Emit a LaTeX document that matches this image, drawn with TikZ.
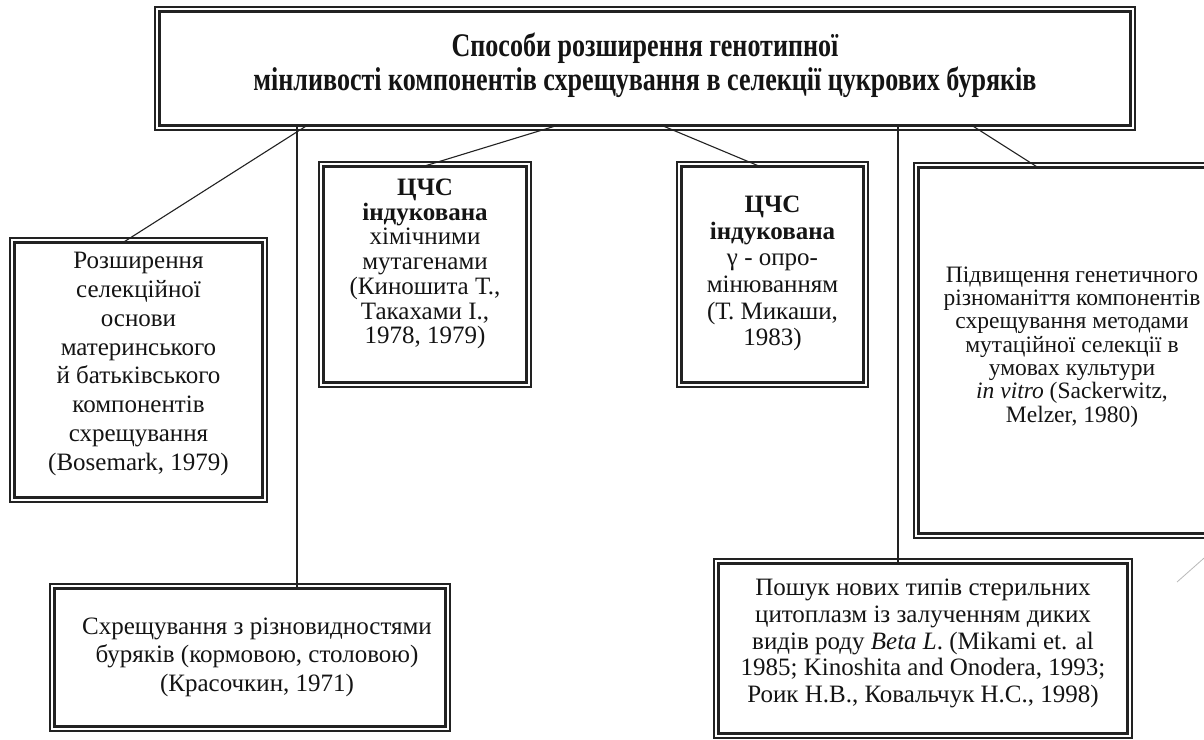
\documentclass[tikz,border=0pt]{standalone}
\usepackage{fontspec}
\setmainfont{Liberation Serif}
\newfontfamily\headfont[FakeStretch=0.79]{Liberation Serif}
\definecolor{ink}{HTML}{222222}
\definecolor{txt}{HTML}{141414}
\setlength{\lineskiplimit}{-60pt}
\begin{document}
\begin{tikzpicture}[x=1pt,y=-1pt,
  frame/.style={draw=ink, line width=3.6pt, inner sep=0pt, outer sep=0pt},
  rim/.style={draw=ink, line width=1.2pt},
  conn/.style={draw=ink, line width=1.1pt},
  bodytext/.style={align=center, text=txt, inner sep=0pt}
]
\path[use as bounding box, fill=white] (0,0) rectangle (1204,739);
\clip (0,0) rectangle (1204,739);

% box frames: thick inner line, thin outer rim drawn afterwards
\node[frame, minimum width=971pt, minimum height=114pt] (top)   at (645,68.5) {};
\node[frame, minimum width=248pt, minimum height=255pt] (lbox)  at (138.5,370) {};
\node[frame, minimum width=203pt, minimum height=216pt] (chem)  at (425,274.5) {};
\node[frame, minimum width=182pt, minimum height=216pt] (gamma) at (772.5,274.5) {};
\node[frame, minimum width=303pt, minimum height=366pt] (rbox)  at (1070,350.5) {};
\node[frame, minimum width=409pt, minimum height=170pt] (brbox) at (923,648.5) {};
\node[frame, minimum width=391pt, minimum height=138pt] (blbox) at (250,657.5) {};

\foreach \b in {top,lbox,chem,gamma,rbox,brbox,blbox}
  \draw[rim] ([shift={(-4.5pt,4.5pt)}]\b.north west) rectangle ([shift={(4.5pt,-4.5pt)}]\b.south east);

% texts
\node[bodytext, font=\headfont\bfseries\fontsize{33}{34}\selectfont] (toptext) at (645,65)
  {Способи розширення генотипної\\мінливості компонентів схрещування в селекції цукрових буряків};

\node[bodytext, font=\fontsize{25}{28.8}\selectfont] (ltext) at (138.5,364)
  {Розширення\\селекційної\\основи\\материнського\\й батьківського\\компонентів\\схрещування\\(Bosemark, 1979)};

\node[bodytext, font=\fontsize{25}{24.7}\selectfont] (chemtext) at (425,264)
  {\textbf{ЦЧС}\\\textbf{індукована}\\хімічними\\мутагенами\\(Киношита Т.,\\Такахами І.,\\1978, 1979)};

\node[bodytext, font=\fontsize{25}{26.6}\selectfont] (gammatext) at (772.5,273.5)
  {\textbf{ЦЧС}\\\textbf{індукована}\\γ - опро-\\мінюванням\\(Т. Микаши,\\1983)};

\node[bodytext, font=\fontsize{23.5}{23.3}\selectfont] (rtext) at (1072,347)
  {Підвищення генетичного\\різноманіття компонентів\\схрещування методами\\мутаційної селекції в\\умовах культури\\\textit{in vitro} (Sackerwitz,\\Melzer, 1980)};

\node[bodytext, font=\fontsize{25}{26.7}\selectfont] (brtext) at (923,643.5)
  {Пошук нових типів стерильних\\цитоплазм із залученням диких\\видів роду \textit{Beta L}. (Mikami et. al\\1985; Kinoshita and Onodera, 1993;\\Роик Н.В., Ковальчук Н.С., 1998)};

\node[bodytext, font=\fontsize{25}{28.5}\selectfont] (bltext) at (257,657)
  {Схрещування з різновидностями\\буряків (кормовою, столовою)\\(Красочкин, 1971)};

% connectors from the heading box
\draw[conn] ([xshift=147.5pt]top.south west) -- ([xshift=108.5pt]lbox.north west);
\draw[conn] ([xshift=137.5pt]top.south west) -- ([xshift=242.5pt]blbox.north west);
\draw[conn] ([xshift=397.5pt]top.south west) -- ([xshift=99.5pt]chem.north west);
\draw[conn] ([xshift=502.5pt]top.south west) -- ([xshift=78.5pt]gamma.north west);
\draw[conn] ([xshift=738.5pt]top.south west) -- ([xshift=179.5pt]brbox.north west);
\draw[conn] ([xshift=812.5pt]top.south west) -- ([xshift=119.5pt]rbox.north west);

% stray stroke at the lower right edge
\coordinate (s1) at (1177,582);
\coordinate (s2) at (1212,551);
\draw[gray!55, line width=0.8pt] (s1) -- (s2);
\end{tikzpicture}
\end{document}
